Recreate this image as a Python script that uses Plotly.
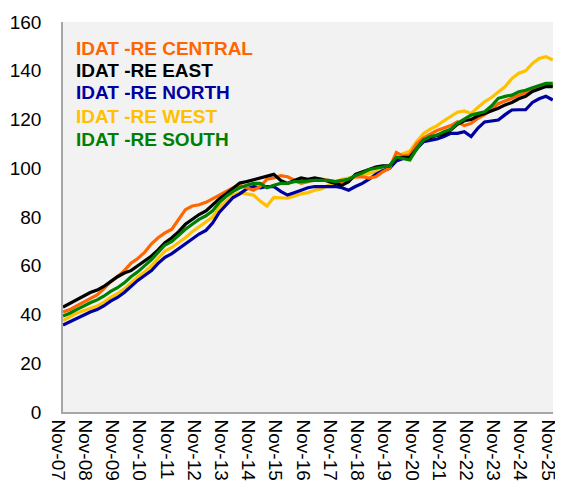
import plotly.graph_objects as go
import pandas as pd

dates = pd.date_range("2007-11-01", "2025-11-01", freq="3MS")

central = [41, 42, 43.5, 45, 46.5, 48, 50.5, 53.5, 55.5, 58, 61, 63, 65.5, 69, 71.5, 73.5, 75, 79, 83, 84.5,
           85, 86, 87.5, 89, 90.5, 92, 93, 92, 91, 92.5, 95.5, 96, 97, 96.5, 95, 93.8, 94.5, 95.5, 95.5, 95,
           94.5, 94.5, 95.5, 96.5, 96.5, 96, 96.5, 98.5, 100, 106.5, 105, 105.5, 110, 112.5, 114, 115.5, 116.5, 117.5, 119, 117.5,
           118.4, 120.5, 122, 124, 126.5, 127.5, 128.7, 130, 131, 132.5, 133.5, 134.5, 134]
east = [43, 44.5, 46, 47.5, 49, 50, 51.5, 53.5, 55.5, 57, 58, 60, 62, 64, 66.5, 69.5, 71.5, 74, 77, 79,
        81, 82.5, 85, 87.5, 89.5, 92, 94, 94.5, 95.2, 96, 96.5, 97.5, 95, 93.8, 95, 96, 95.5, 96, 95.5, 94.5,
        93.8, 93, 94.5, 97.5, 98.6, 99.5, 100.5, 101, 101, 104, 104.5, 104.5, 108, 111.6, 112.5, 113.5, 114, 115.7, 118, 119.5,
        120, 121.5, 122.5, 123.5, 124.6, 126, 127, 128.5, 129.5, 131.5, 132.5, 133.5, 133.5]
north = [35.7, 37, 38.5, 39.5, 41, 42, 43.5, 45.5, 47, 49, 51.5, 54, 56, 58, 61, 63.5, 65, 67, 69, 71,
         73, 74.5, 77.5, 82, 85, 88, 89.5, 91.5, 92.5, 92, 92.5, 92.5, 90.5, 89, 90, 91, 92, 92.5, 92.5, 92.5,
         92.5, 92, 91, 92.5, 93.8, 95.5, 97.5, 99, 100, 103, 104, 104, 108, 110.9, 111.5, 112, 113, 114.3, 114.3, 115,
         113, 116.5, 119, 119.5, 119.8, 122, 123.9, 124, 124, 127, 128.5, 129.5, 128]
west = [37.5, 39, 40.5, 41.5, 42.5, 43.5, 45, 47, 48.5, 50.5, 53, 55.5, 57.5, 60, 63, 66, 67.5, 69.5, 71.5, 74,
        76, 78, 80, 84, 86.5, 89, 90, 89.5, 89, 86.5, 84.5, 88, 88, 87.7, 88.5, 89.5, 90, 91, 91.5, 93,
        94.5, 95.5, 96, 96.5, 97, 98, 98.6, 99, 100, 104.5, 106, 107, 111, 114.3, 116, 117.5, 119.5, 121.2, 123, 123.5,
        122.5, 125, 127.3, 129, 131.4, 133.5, 136.8, 139, 140, 143, 145, 145.8, 144.4]
south = [39.4, 40.5, 42, 43.5, 44.8, 46, 47.5, 49.5, 51, 53, 55.5, 57.5, 60, 62.5, 65.5, 68.5, 70, 72.5, 75, 77,
         79, 80.5, 82.5, 86, 88.5, 90.5, 92, 93, 93.8, 93.8, 92, 93, 93.8, 93.8, 94.5, 94.5, 94.8, 95, 95, 95,
         94.5, 95, 95.5, 97, 98, 99.5, 100, 100.5, 101, 104.5, 104, 103.4, 108, 111.6, 113, 113.6, 115, 116, 118.4, 120,
         121.8, 122.5, 123.2, 125.5, 128.7, 129.5, 130, 131.4, 132, 133, 134, 134.8, 134.8]

names = ["IDAT -RE CENTRAL", "IDAT -RE EAST", "IDAT -RE NORTH", "IDAT -RE WEST", "IDAT -RE SOUTH"]
colors = ["#FF6600", "#000000", "#0000A0", "#FFC000", "#008000"]
series = [central, east, north, west, south]
tick_dates = pd.date_range("2007-11-01", "2025-11-01", freq="12MS")
tick_labels = [d.strftime("%b-%y") for d in tick_dates]

fig = go.Figure()
# draw order: west, north, central, east, south on top
for i in [3, 2, 0, 1, 4]:
    fig.add_trace(go.Scatter(x=dates, y=series[i], mode="lines", name=names[i],
                             line=dict(color=colors[i], width=3.2), showlegend=False))

font = "Liberation Sans, Arial, sans-serif"
ys = [0.933, 0.876, 0.818, 0.758, 0.700]
for n, c, yy in zip(names, colors, ys):
    fig.add_annotation(x=0.022, y=yy, xref="paper", yref="paper", text="<b>%s</b>" % n,
                       showarrow=False, xanchor="left", yanchor="middle",
                       font=dict(family=font, size=19, color=c))

# page body has an 8px margin, so the figure is sized/margined to land on the reference pixels
fig.update_layout(
    width=555, height=480,
    margin=dict(l=55, r=10, t=14, b=76),
    paper_bgcolor="white", plot_bgcolor="#F2F2F2",
    font=dict(family=font, size=19, color="#000000"),
)
fig.update_xaxes(range=[tick_dates[0], pd.Timestamp("2025-11-04")], tickvals=tick_dates, ticktext=tick_labels,
                 tickangle=90, showgrid=False, zeroline=False, showline=True, linecolor="#A6A6A6",
                 linewidth=1.5, ticks="", ticklabelshift=-5, ticklabelstandoff=2, automargin=False,
                 tickfont=dict(size=19, family=font))
fig.update_yaxes(range=[0, 160], dtick=20, showgrid=False, zeroline=False, showline=True,
                 linecolor="#A6A6A6", linewidth=1.5, ticks="", ticklabelstandoff=16, automargin=False,
                 tickfont=dict(size=19, family=font))

fig.write_html("out.html")
